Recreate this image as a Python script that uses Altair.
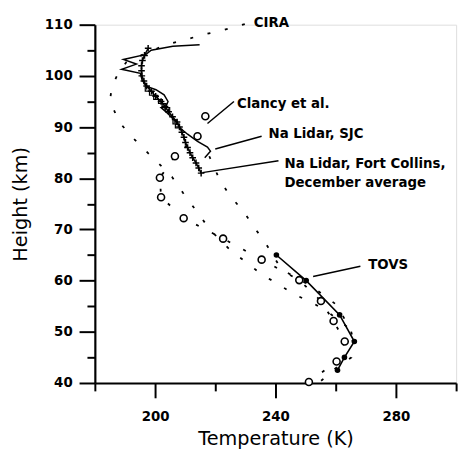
import altair as alt
import pandas as pd

# ---------------- data ----------------
cira_T = [229.8, 223.0, 216.4, 210.2, 203.6, 196.1, 190.5, 187.9, 185.6, 185.2, 185.6, 187.9,
          192.1, 197.0, 201.0, 205.6, 209.2, 213.1, 216.7, 220.0, 225.6, 230.5, 235.4, 241.0,
          245.9, 251.8, 257.4, 264.6, 265.9, 265.2, 260.0, 255.1]
cira_H = [110.1, 109.0, 108.1, 107.1, 106.1, 104.2, 102.7, 100.7, 97.8, 95.9, 94.4, 91.1,
          88.2, 85.3, 83.0, 80.3, 77.2, 74.1, 71.2, 68.9, 65.6, 63.5, 61.2, 59.3,
          57.4, 55.8, 53.9, 50.6, 47.7, 45.0, 42.9, 40.4]

b_T = [218.0, 221.6, 224.9, 229.5, 232.8, 236.4, 242.0, 252.5, 260.0, 264.9, 266.0]
b_H = [84.3, 79.5, 76.6, 73.4, 70.5, 67.6, 62.2, 58.7, 55.4, 50.6, 48.0]

clancy_T = [216.7, 214.1, 206.6, 201.6, 202.0, 209.5, 222.6, 235.4, 247.9, 255.1, 259.3, 263.0, 260.3, 251.1]
clancy_H = [92.1, 88.2, 84.3, 80.1, 76.3, 72.2, 68.2, 64.1, 60.1, 56.0, 52.1, 48.1, 44.2, 40.2]

tovs_T = [240.3, 250.2, 261.3, 266.2, 262.9, 260.6]
tovs_H = [65.0, 60.0, 53.3, 48.1, 45.0, 42.5]

sjc_T = [214.8, 205.9, 198.7, 197.0, 189.5, 193.8, 188.9, 195.1, 195.7, 197.0, 200.3, 203.0,
         204.3, 203.6, 202.0, 204.3, 206.9, 208.5, 210.8, 214.1, 217.4, 218.4, 216.5]
sjc_H = [106.1, 105.8, 105.0, 104.2, 103.2, 102.3, 101.3, 100.5, 99.2, 98.0, 97.3, 96.3,
         95.0, 94.0, 93.8, 92.6, 91.1, 89.7, 88.6, 87.2, 86.1, 85.3, 84.0]

fc_T = [197.7, 196.5, 195.8, 195.5, 195.5, 195.6, 196.3, 197.2, 198.8, 200.2, 202.0, 203.3,
        204.5, 205.8, 207.3, 208.1, 208.9, 209.6, 210.1, 210.8, 211.6, 212.5, 213.6, 214.5, 215.3]
fc_H = [105.4, 104.0, 103.0, 102.0, 101.0, 100.0, 99.0, 98.0, 97.0, 96.0, 95.0, 94.0,
        93.0, 92.0, 91.0, 90.0, 89.0, 88.0, 87.0, 86.0, 85.0, 84.0, 83.0, 82.0, 81.0]

sq_T = [197.4, 198.8, 200.2, 201.8, 203.0, 204.2, 206.6, 207.4]
sq_H = [97.4, 96.6, 95.8, 95.0, 94.2, 93.4, 91.0, 90.2]

label_text = ["CIRA", "Clancy et al.", "Na Lidar, SJC", "Na Lidar, Fort Collins,", "December average", "TOVS"]
label_T = [232.8, 227.2, 237.7, 243.0, 243.0, 270.8]
label_H = [110.4, 94.4, 88.6, 82.8, 79.0, 63.1]

lead_T1 = [217.4, 220.0, 215.7, 252.5]
lead_H1 = [90.7, 85.7, 81.1, 60.8]
lead_T2 = [226.2, 235.4, 241.0, 268.2]
lead_H2 = [95.0, 88.2, 83.4, 62.8]

x_ticks = [180, 200, 220, 240, 260, 280, 300]
y_ticks = [40, 45, 50, 55, 60, 65, 70, 75, 80, 85, 90, 95, 100, 105, 110]

# ---------------- frames ----------------
def frame(T, H):
    return pd.DataFrame({"T": T, "H": H, "i": list(range(len(T)))})

cira = frame(cira_T, cira_H)
lineb = frame(b_T, b_H)
clancy = frame(clancy_T, clancy_H)
tovs = frame(tovs_T, tovs_H)
sjc = frame(sjc_T, sjc_H)
fc = frame(fc_T, fc_H)
sq = frame(sq_T, sq_H)
labels = pd.DataFrame({"T": label_T, "H": label_H, "txt": label_text})
leads = pd.DataFrame({"T": lead_T1, "H": lead_H1, "T2": lead_T2, "H2": lead_H2})

FONT = "DejaVu Sans"

X = alt.X("T:Q", scale=alt.Scale(domain=[180, 300], nice=False, zero=False),
          axis=alt.Axis(values=x_ticks, title="Temperature (K)",
                        labelExpr="datum.value % 40 === 0 ? datum.label : ''",
                        tickSize={"condition": {"test": "datum.value % 40 === 0", "value": 15}, "value": 8},
                        grid=False, domainColor="black", domainWidth=2.2, tickColor="black", tickWidth=2,
                        labelFont=FONT, labelFontWeight="bold", labelFontSize=13.5, labelColor="black",
                        labelPadding=12, titleFont=FONT, titleFontSize=19.5, titleFontWeight="normal",
                        titleColor="black", titlePadding=7))
Y = alt.Y("H:Q", scale=alt.Scale(domain=[40, 110], nice=False, zero=False),
          axis=alt.Axis(values=y_ticks, title="Height (km)",
                        labelExpr="datum.value % 10 === 0 ? datum.label : ''",
                        tickSize={"condition": {"test": "datum.value % 10 === 0", "value": 16}, "value": 8},
                        grid=False, domainColor="black", domainWidth=2.2, tickColor="black", tickWidth=2,
                        labelFont=FONT, labelFontWeight="bold", labelFontSize=13.5, labelColor="black",
                        labelPadding=7, titleFont=FONT, titleFontSize=19.5, titleFontWeight="normal",
                        titleColor="black", titlePadding=14))

dash = [3, 15]

cira_l = alt.Chart(cira).mark_line(color="black", strokeWidth=1.8, strokeDash=dash).encode(x=X, y=Y, order="i:Q")
b_l = alt.Chart(lineb).mark_line(color="black", strokeWidth=1.8, strokeDash=dash).encode(x=X, y=Y, order="i:Q")
clancy_l = alt.Chart(clancy).mark_line(color="black", strokeWidth=1.8, strokeDash=dash).encode(x=X, y=Y, order="i:Q")
clancy_p = alt.Chart(clancy).mark_point(shape="circle", size=50, filled=False, color="black",
                                        strokeWidth=1.6, opacity=1, fill="white", fillOpacity=1).encode(x=X, y=Y)
tovs_l = alt.Chart(tovs).mark_line(color="black", strokeWidth=1.6).encode(x=X, y=Y, order="i:Q")
tovs_p = alt.Chart(tovs).mark_point(shape="circle", size=32, filled=True, color="black", opacity=1).encode(x=X, y=Y)
sjc_l = alt.Chart(sjc).mark_line(color="black", strokeWidth=1.5).encode(x=X, y=Y, order="i:Q")
fc_l = alt.Chart(fc).mark_line(color="black", strokeWidth=1.5).encode(x=X, y=Y, order="i:Q")
fc_p = alt.Chart(fc).mark_point(shape="M-1,0L1,0M0,-1L0,1", size=45, filled=False, color="black",
                                strokeWidth=1.5, opacity=1).encode(x=X, y=Y)
sq_p = alt.Chart(sq).mark_point(shape="square", size=16, filled=False, color="black",
                                strokeWidth=1.2, opacity=1).encode(x=X, y=Y)
lead_r = alt.Chart(leads).mark_rule(color="black", strokeWidth=1.5).encode(x=X, y=Y, x2="T2:Q", y2="H2:Q")
text_m = alt.Chart(labels).mark_text(align="left", baseline="middle", font=FONT, fontWeight="bold",
                                     fontSize=13.5, color="black").encode(x=X, y=Y, text="txt:N")

chart = alt.layer(cira_l, b_l, clancy_l, sjc_l, fc_l, fc_p, sq_p, tovs_l, tovs_p, clancy_p, lead_r, text_m).properties(
    width=366, height=363,
    autosize=alt.AutoSizeParams(type="none"),
    padding={"left": 88, "top": 14, "right": 9, "bottom": 66},
).configure_view(stroke=None).configure(background="white")

chart.save("out.html", embed_options={"renderer": "svg", "actions": False})
